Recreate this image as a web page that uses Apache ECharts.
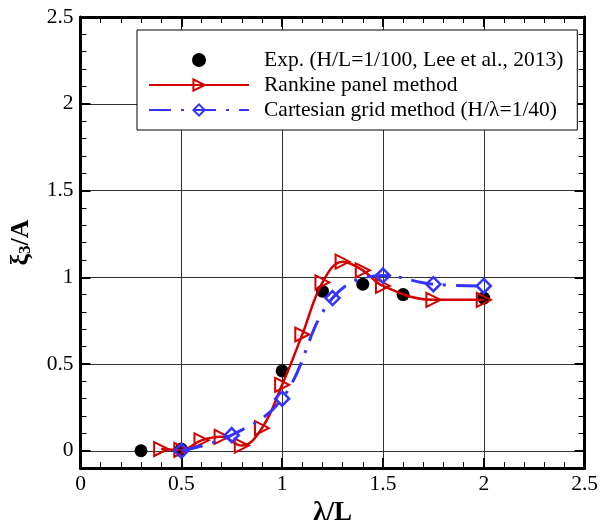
<!DOCTYPE html>
<html>
<head>
<meta charset="utf-8">
<script src="https://cdn.jsdelivr.net/npm/echarts@6/dist/echarts.min.js"></script>
<style>
  html, body { margin: 0; padding: 0; background: #fff; }
  #chart { width: 601px; height: 532px; }
</style>
</head>
<body>
<div id="chart"></div>
<script>
// Heave response amplitude vs. wavelength ratio
const expX = [0.3, 0.5, 1.0, 1.2, 1.4, 1.6, 2.0];
const expY = [0.0, 0.01, 0.46, 0.92, 0.96, 0.90, 0.88];

const rankineX = [0.4, 0.5, 0.6, 0.7, 0.8, 0.9, 1.0, 1.1, 1.2, 1.3, 1.4, 1.5, 1.75, 2.0];
const rankineY = [0.01, 0.005, 0.06, 0.08, 0.03, 0.13, 0.38, 0.67, 0.97, 1.09, 1.04, 0.95, 0.87, 0.87];

const cartesianX = [0.5, 0.75, 1.0, 1.25, 1.5, 1.75, 2.0];
const cartesianY = [0.0, 0.09, 0.30, 0.88, 1.01, 0.96, 0.95];

const seriesNames = [
  'Exp. (H/L=1/100, Lee et al., 2013)',
  'Rankine panel method',
  'Cartesian grid method (H/\u03bb=1/40)'
];

// Major y tick values and labels
const yMajorTicks = [0, 0.5, 1, 1.5, 2, 2.5];
const yMinorTicks = [];
for (let i = 0; i <= 25; i++) yMinorTicks.push(i / 10);

const zip = (xs, ys) => xs.map((x, i) => [x, ys[i]]);

const SERIF = 'Liberation Serif';
const RED = '#d40000';
const BLUE = '#3333ff';

const chart = echarts.init(document.getElementById('chart'), null, { renderer: 'canvas' });

const frameLine = { show: true, onZero: false, lineStyle: { color: '#000', width: 3 } };
const majorTick = { show: true, inside: true, length: 10, lineStyle: { color: '#000', width: 2 } };
const minorTick = { show: true, inside: true, length: 6, lineStyle: { color: '#000', width: 1 } };
const gridLine = { show: true, lineStyle: { color: '#333', width: 1 } };

function xAx(position, interval, opts) {
  return Object.assign({
    type: 'value', position: position, min: 0, max: 2.5, interval: interval,
    axisLine: { show: false, onZero: false },
    axisTick: { show: false },
    axisLabel: { show: false },
    splitLine: { show: false }
  }, opts);
}
function yAx(position, opts) {
  return Object.assign({
    type: 'value', position: position, min: -0.1, max: 2.5,
    axisLine: { show: false, onZero: false },
    axisTick: { show: false },
    axisLabel: { show: false },
    splitLine: { show: false }
  }, opts);
}

chart.setOption({
  animation: false,
  backgroundColor: '#fff',
  grid: { left: 79, right: 14, top: 17, bottom: 60 },
  xAxis: [
    xAx('bottom', 0.5, {
      axisLine: frameLine,
      axisTick: majorTick,
      splitLine: gridLine,
      axisLabel: { show: true, margin: 5, color: '#000', fontFamily: SERIF, fontSize: 21.5 },
      name: '\u03bb/L',
      nameLocation: 'middle',
      nameGap: 27,
      nameTextStyle: { color: '#000', fontFamily: SERIF, fontSize: 27, fontWeight: 'bold' }
    }),
    xAx('bottom', 0.1, { axisTick: minorTick }),
    xAx('top', 0.5, { axisLine: frameLine, axisTick: majorTick }),
    xAx('top', 0.1, { axisTick: minorTick })
  ],
  yAxis: [
    yAx('left', {
      axisLine: frameLine,
      axisTick: Object.assign({ customValues: yMajorTicks }, majorTick),
      splitLine: gridLine,
      axisLabel: { show: true, customValues: yMajorTicks, margin: 7, color: '#000', fontFamily: SERIF, fontSize: 21.5 },
      name: '{g|\u03be}{s|3}{a|/A}',
      nameLocation: 'middle',
      nameGap: 46,
      nameTextStyle: {
        color: '#000',
        rich: {
          g: { fontFamily: SERIF, fontSize: 26, fontWeight: 'bold', color: '#000' },
          s: { fontFamily: SERIF, fontSize: 17, fontWeight: 'bold', color: '#000', verticalAlign: 'bottom', padding: [10, 0, 0, 0] },
          a: { fontFamily: SERIF, fontSize: 26, fontWeight: 'bold', color: '#000' }
        }
      }
    }),
    yAx('left', { axisTick: Object.assign({ customValues: yMinorTicks }, minorTick) }),
    yAx('right', { axisLine: frameLine, axisTick: Object.assign({ customValues: yMajorTicks }, majorTick) }),
    yAx('right', { axisTick: Object.assign({ customValues: yMinorTicks }, minorTick) })
  ],
  legend: {
    orient: 'vertical',
    left: 137,
    top: 30,
    padding: [19, 14, 9, 11],
    itemWidth: 100,
    itemHeight: 14,
    itemGap: 3,
    backgroundColor: '#fff',
    borderColor: '#000',
    borderWidth: 1,
    borderRadius: 0,
    data: seriesNames,
    textStyle: { color: '#000', fontFamily: SERIF, fontSize: 21.5, lineHeight: 20, padding: [0, 0, 0, 10] }
  },
  series: [
    {
      name: seriesNames[0],
      type: 'scatter',
      data: zip(expX, expY),
      symbol: 'circle',
      symbolSize: 13,
      itemStyle: { color: '#000', opacity: 1 },
      z: 2
    },
    {
      name: seriesNames[1],
      type: 'line',
      data: zip(rankineX, rankineY),
      smooth: 0.4,
      symbol: 'triangle',
      symbolRotate: -90,
      symbolSize: 14,
      lineStyle: { color: RED, width: 2.5 },
      itemStyle: { color: 'rgba(255,255,255,0)', borderColor: RED, borderWidth: 2 },
      z: 3
    },
    {
      name: seriesNames[2],
      type: 'line',
      data: zip(cartesianX, cartesianY),
      smooth: 0.4,
      symbol: 'diamond',
      symbolSize: 14,
      lineStyle: { color: BLUE, width: 3, type: [22, 10, 3, 10] },
      itemStyle: { color: 'rgba(255,255,255,0)', borderColor: BLUE, borderWidth: 2.5 },
      z: 4
    }
  ]
});
</script>
</body>
</html>
